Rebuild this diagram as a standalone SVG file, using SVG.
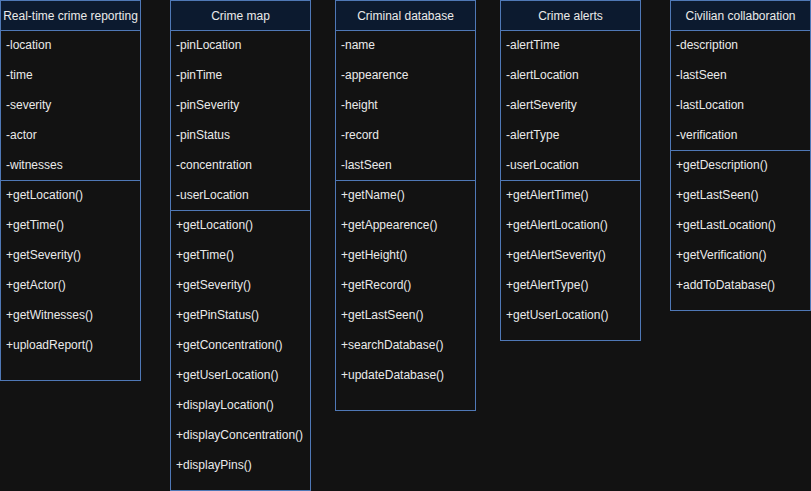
<svg xmlns="http://www.w3.org/2000/svg" width="811" height="491" viewBox="0 0 811 491">
<style>
.bg{fill:#121212}
.box{fill:#121212;stroke:#4f78b6;stroke-width:1}
.hd{fill:#0c1a2f;stroke:#4f78b6;stroke-width:1}
.sep{stroke:#4f78b6;stroke-width:1}
text{font-family:"Liberation Sans",Arial,sans-serif;font-size:12px;fill:#eaeaea}
.t{text-anchor:middle}
</style>
<rect class="bg" x="0" y="0" width="811" height="491"/>
<g id="connectors"/>
<g id="realtime-crime-reporting">
<rect class="box" x="0.5" y="0.5" width="140" height="380"/>
<rect class="hd" x="0.5" y="0.5" width="140" height="30"/>
<line class="sep" x1="0.5" y1="180.5" x2="140.5" y2="180.5"/>
<text class="t" x="70.5" y="19.5">Real-time crime reporting</text>
<text x="6" y="48.5">-location</text>
<text x="6" y="78.5">-time</text>
<text x="6" y="108.5">-severity</text>
<text x="6" y="138.5">-actor</text>
<text x="6" y="168.5">-witnesses</text>
<text x="6" y="198.5">+getLocation()</text>
<text x="6" y="228.5">+getTime()</text>
<text x="6" y="258.5">+getSeverity()</text>
<text x="6" y="288.5">+getActor()</text>
<text x="6" y="318.5">+getWitnesses()</text>
<text x="6" y="348.5">+uploadReport()</text>
</g>
<g id="crime-map">
<rect class="box" x="170.5" y="0.5" width="140" height="490"/>
<rect class="hd" x="170.5" y="0.5" width="140" height="30"/>
<line class="sep" x1="170.5" y1="210.5" x2="310.5" y2="210.5"/>
<text class="t" x="240.5" y="19.5">Crime map</text>
<text x="176" y="48.5">-pinLocation</text>
<text x="176" y="78.5">-pinTime</text>
<text x="176" y="108.5">-pinSeverity</text>
<text x="176" y="138.5">-pinStatus</text>
<text x="176" y="168.5">-concentration</text>
<text x="176" y="198.5">-userLocation</text>
<text x="176" y="228.5">+getLocation()</text>
<text x="176" y="258.5">+getTime()</text>
<text x="176" y="288.5">+getSeverity()</text>
<text x="176" y="318.5">+getPinStatus()</text>
<text x="176" y="348.5">+getConcentration()</text>
<text x="176" y="378.5">+getUserLocation()</text>
<text x="176" y="408.5">+displayLocation()</text>
<text x="176" y="438.5">+displayConcentration()</text>
<text x="176" y="468.5">+displayPins()</text>
</g>
<g id="criminal-database">
<rect class="box" x="335.5" y="0.5" width="140" height="410"/>
<rect class="hd" x="335.5" y="0.5" width="140" height="30"/>
<line class="sep" x1="335.5" y1="180.5" x2="475.5" y2="180.5"/>
<text class="t" x="405.5" y="19.5">Criminal database</text>
<text x="341" y="48.5">-name</text>
<text x="341" y="78.5">-appearence</text>
<text x="341" y="108.5">-height</text>
<text x="341" y="138.5">-record</text>
<text x="341" y="168.5">-lastSeen</text>
<text x="341" y="198.5">+getName()</text>
<text x="341" y="228.5">+getAppearence()</text>
<text x="341" y="258.5">+getHeight()</text>
<text x="341" y="288.5">+getRecord()</text>
<text x="341" y="318.5">+getLastSeen()</text>
<text x="341" y="348.5">+searchDatabase()</text>
<text x="341" y="378.5">+updateDatabase()</text>
</g>
<g id="crime-alerts">
<rect class="box" x="500.5" y="0.5" width="140" height="340"/>
<rect class="hd" x="500.5" y="0.5" width="140" height="30"/>
<line class="sep" x1="500.5" y1="180.5" x2="640.5" y2="180.5"/>
<text class="t" x="570.5" y="19.5">Crime alerts</text>
<text x="506" y="48.5">-alertTime</text>
<text x="506" y="78.5">-alertLocation</text>
<text x="506" y="108.5">-alertSeverity</text>
<text x="506" y="138.5">-alertType</text>
<text x="506" y="168.5">-userLocation</text>
<text x="506" y="198.5">+getAlertTime()</text>
<text x="506" y="228.5">+getAlertLocation()</text>
<text x="506" y="258.5">+getAlertSeverity()</text>
<text x="506" y="288.5">+getAlertType()</text>
<text x="506" y="318.5">+getUserLocation()</text>
</g>
<g id="civilian-collaboration">
<rect class="box" x="670.5" y="0.5" width="140" height="310"/>
<rect class="hd" x="670.5" y="0.5" width="140" height="30"/>
<line class="sep" x1="670.5" y1="150.5" x2="810.5" y2="150.5"/>
<text class="t" x="740.5" y="19.5">Civilian collaboration</text>
<text x="676" y="48.5">-description</text>
<text x="676" y="78.5">-lastSeen</text>
<text x="676" y="108.5">-lastLocation</text>
<text x="676" y="138.5">-verification</text>
<text x="676" y="168.5">+getDescription()</text>
<text x="676" y="198.5">+getLastSeen()</text>
<text x="676" y="228.5">+getLastLocation()</text>
<text x="676" y="258.5">+getVerification()</text>
<text x="676" y="288.5">+addToDatabase()</text>
</g>
</svg>
